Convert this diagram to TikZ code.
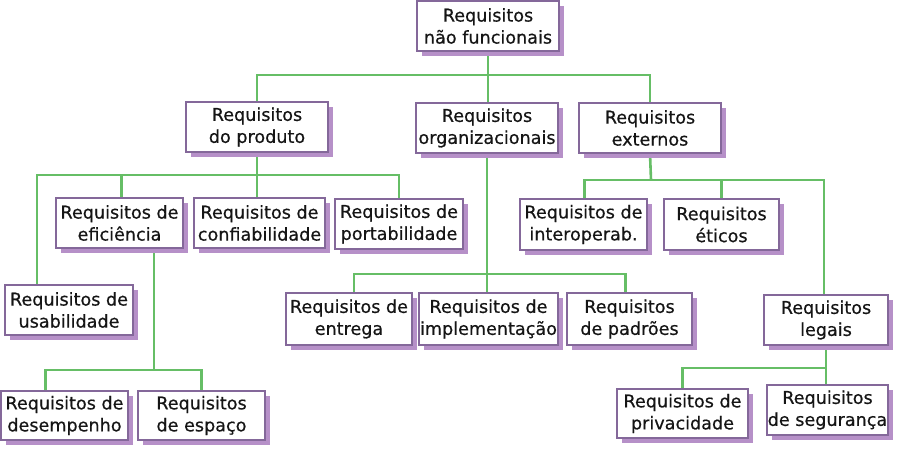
\documentclass[tikz,border=0pt]{standalone}
\usepackage{fontspec}
\setmainfont{DejaVu Sans}
\newfontfamily\boxfont{DejaVu Sans}[FakeBold=0.5]
\usetikzlibrary{shadows,backgrounds}
\definecolor{linec}{HTML}{66BE66}
\definecolor{bordc}{HTML}{84689A}
\definecolor{shadc}{HTML}{B690C8}
\definecolor{txtc}{HTML}{151515}
\newcommand\myfs{\boxfont\fontsize{17.6}{22}\selectfont}
\tikzset{
  box/.style={draw=bordc, line width=1.1pt, fill=white, align=center, inner sep=0pt,
    text=txtc, font=\myfs,
    drop shadow={shadow xshift=5pt, shadow yshift=-5pt, fill=shadc, opacity=1}},
  conn/.style={draw=linec, line width=2.6pt}
}
\newcommand\mybox[6]{\node[box, minimum width={(#4)-(#2)}, minimum height={(#5)-(#3)}]
  (#1) at ({((#2)+(#4))/2},{((#3)+(#5))/2}) {#6};}
\begin{document}
\begin{tikzpicture}[x=1pt,y=-1pt]
\useasboundingbox (0,0) rectangle (900,450);
% boxes
\mybox{root}{417}{1}{559}{51}{Requisitos\\não funcionais}
\mybox{prod}{186}{102}{328}{152}{Requisitos\\do produto}
\mybox{org}{416}{103}{558}{153}{Requisitos\\organizacionais}
\mybox{ext}{579}{103}{721}{153}{Requisitos\\externos}
\mybox{efic}{56}{198}{183}{248}{Requisitos de\\eficiência}
\mybox{confiab}{194}{198}{325}{248}{Requisitos de\\confiabilidade}
\mybox{portab}{335}{199}{463}{249}{Requisitos de\\portabilidade}
\mybox{interop}{520}{199}{647}{250}{Requisitos de\\interoperab.}
\mybox{eticos}{664}{199}{779}{250}{Requisitos\\éticos}
\mybox{usab}{5}{285}{133}{335}{Requisitos de\\usabilidade}
\mybox{entrega}{286}{293}{412}{345}{Requisitos de\\entrega}
\mybox{impl}{419}{293}{558}{345}{Requisitos de\\implementação}
\mybox{padroes}{567}{293}{692}{345}{Requisitos\\de padrões}
\mybox{legais}{764}{295}{888}{345}{Requisitos\\legais}
\mybox{desemp}{1}{391}{128}{440}{Requisitos de\\desempenho}
\mybox{espaco}{138}{391}{265}{440}{Requisitos\\de espaço}
\mybox{privac}{617}{389}{748}{438}{Requisitos de\\privacidade}
\mybox{segur}{767}{385}{888}{435}{Requisitos\\de segurança}
% bus coordinates
\coordinate (b1) at (488,75);
\coordinate (b2) at (255,175);
\coordinate (b3) at (154,370);
\coordinate (b4) at (487,274);
\coordinate (b5) at (651,180);
\coordinate (b6) at (826,368);
% connectors behind boxes
\begin{scope}[on background layer]
\fill[white] (0,0) rectangle (900,450);
\begin{scope}[every path/.style={conn}]
\path (prod.north) |- (b1) -| (ext.north);
\path (root.south) -- (root.south |- org.north);
\path (prod.south) -- (prod.south |- confiab.north);
\path ([xshift=-32pt]usab.north) |- (b2) -| (portab.north);
\path ([xshift=2pt]efic.north) -- ([xshift=2pt]efic.north |- b2);
\path (b3 |- efic.south) -- (b3);
\path ([xshift=-19pt]desemp.north) |- (b3) -| (espaco.north);
\path (org.south) -- (org.south |- impl.north);
\path ([xshift=5pt]entrega.north) |- (b4) -| ([xshift=-4pt]padroes.north);
\path (ext.south) -- (b5);
\path ([xshift=1pt]interop.north) |- (b5) -| ([xshift=-2pt]legais.north);
\path (eticos.north) -- (eticos.north |- b5);
\path (legais.south) -- (legais.south |- segur.north);
\path (privac.north) |- (b6);
\end{scope}
\end{scope}
\end{tikzpicture}
\end{document}
